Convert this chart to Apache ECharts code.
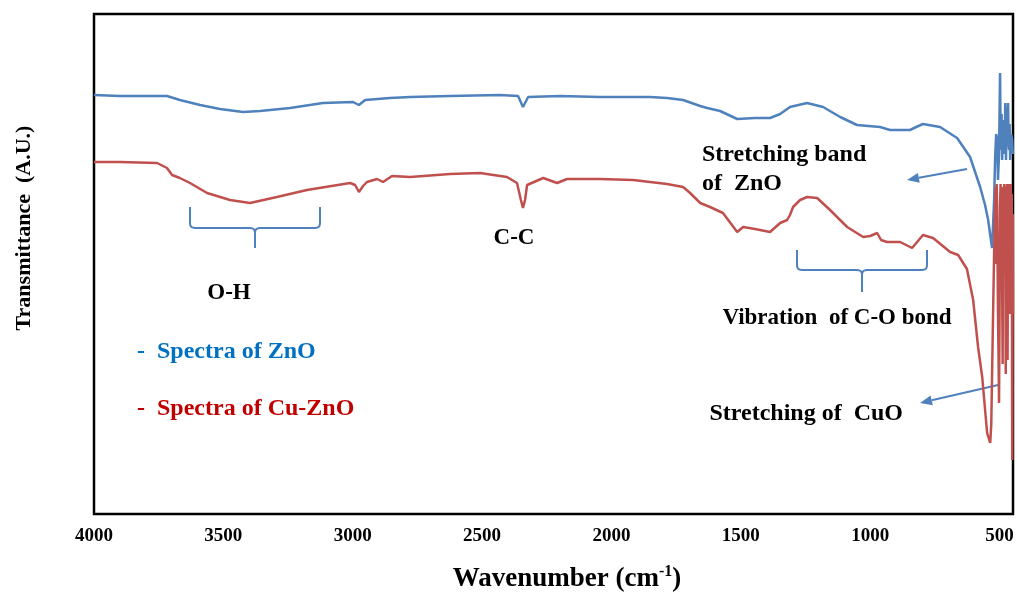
<!DOCTYPE html>
<html>
<head>
<meta charset="utf-8">
<script src="https://cdn.jsdelivr.net/npm/echarts@6/dist/echarts.min.js"></script>
<style>
html,body{margin:0;padding:0;background:#fff;}
#chart{width:1017px;height:592px;}
</style>
</head>
<body>
<div id="chart"></div>
<script>
// Wavenumbers (cm-1) and transmittance (arbitrary units)
const wnZnO = [4000,3900,3822,3718,3668,3590,3513,3424,3358,3242,3115,2999,2976,2952,2856,2778,2624,2431,2361,2342,2322,2199,2044,1851,1785,1723,1657,1630,1580,1514,1445,1387,1348,1310,1244,1182,1116,1051,962,923,846,822,796,730,664,614,575,556,544,536,529,521,517,513,509,506,502,498,496,494,492,490,486,482,480,478,475,473,471,469,467,465,463,461,459,455,451,449];
const tZnO  = [419,418,418,418,414,409,405,402,403,406,411,412,409,414,416,417,418,419,418,407,417,418,417,417,416,414,408,406,403,395,396,396,400,407,411,407,397,389,387,384,384,387,390,387,376,357,327,309,294,279,266,314,357,380,374,334,360,441,380,364,400,354,380,394,360,411,354,390,371,400,411,370,364,390,354,380,374,360];

const wnCuZnO = [4000,3900,3756,3718,3698,3668,3629,3563,3474,3397,3293,3177,3010,2991,2976,2960,2945,2906,2883,2848,2778,2624,2508,2404,2365,2350,2342,2334,2326,2264,2210,2172,2044,1916,1785,1723,1696,1657,1619,1569,1514,1491,1445,1387,1348,1321,1310,1298,1271,1244,1205,1155,1089,1027,1000,973,958,935,884,838,796,757,691,660,626,602,583,567,548,536,532,529,525,521,517,515,513,511,509,506,504,502,500,498,496,494,492,490,488,486,484,482,480,478,476,474,471,469,467,465,463,461,459,457,455,453,451,449,448];
const tCuZnO  = [352,352,351,346,339,336,331,321,314,311,317,324,331,329,322,328,332,335,332,338,337,340,341,337,331,314,306,314,329,336,331,335,335,334,330,327,321,311,307,301,282,287,285,282,291,294,299,307,314,317,316,304,287,277,278,281,274,272,272,266,279,276,262,259,245,214,167,137,81,71,90,137,200,260,310,327,250,330,300,200,160,111,200,310,330,260,327,230,150,320,290,330,240,327,140,320,330,154,310,330,220,325,200,330,260,320,54,300,200];

const xTicks = [4000,3500,3000,2500,2000,1500,1000,500];
const seriesNames = ['Spectra of ZnO','Spectra of Cu-ZnO'];

const SERIF = '"Liberation Serif","Times New Roman",serif';
const BLUE = '#4F81BD';
const RED = '#C0504D';

function pairs(xs, ys){ return xs.map((x,i)=>[x, ys[i]]); }

function arrow(x1,y1,x2,y2){
  const dx=x2-x1, dy=y2-y1, L=Math.hypot(dx,dy);
  const ux=dx/L, uy=dy/L, hl=12, hw=5;
  const bx=x2-ux*hl, by=y2-uy*hl;
  return [
    {type:'line', shape:{x1:x1,y1:y1,x2:bx,y2:by}, style:{stroke:BLUE,lineWidth:2}},
    {type:'polygon', shape:{points:[[x2,y2],[bx-uy*hw,by+ux*hw],[bx+uy*hw,by-ux*hw]]}, style:{fill:BLUE}}
  ];
}
function quad(p0,p1,p2,n){
  const out=[];
  for(let i=0;i<=n;i++){const t=i/n, a=(1-t)*(1-t), b=2*(1-t)*t, c=t*t;
    out.push([a*p0[0]+b*p1[0]+c*p2[0], a*p0[1]+b*p1[1]+c*p2[1]]);}
  return out;
}
function brace(xl,xr,yt,yh,yb){
  const xc=(xl+xr)/2, r=5;
  const left=[[xl,yt]].concat(quad([xl,yh-r],[xl,yh],[xl+r,yh],6), quad([xc-r,yh],[xc,yh],[xc,yh+r],6), [[xc,yb]]);
  const right=[[xr,yt]].concat(quad([xr,yh-r],[xr,yh],[xr-r,yh],6), quad([xc+r,yh],[xc,yh],[xc,yh+r],6));
  return [
    {type:'polyline', shape:{points:left}, style:{stroke:BLUE,lineWidth:2,fill:null}},
    {type:'polyline', shape:{points:right}, style:{stroke:BLUE,lineWidth:2,fill:null}}
  ];
}
function txt(x,y,text,size,color,align){
  return {type:'text', x:x, y:y, style:{text:text, font:`bold ${size}px ${SERIF}`, fill:color||'#000', align:align||'left', verticalAlign:'middle'}};
}

const chart = echarts.init(document.getElementById('chart'), null, {renderer:'canvas'});
chart.setOption({
  animation:false,
  backgroundColor:'#fff',
  grid:{left:94, right:4, top:14, bottom:78, show:true, borderColor:'#000', borderWidth:2.5, backgroundColor:'transparent'},
  xAxis:{
    type:'value', inverse:true, min:448, max:4000,
    axisLine:{show:false}, axisTick:{show:false}, splitLine:{show:false},
    axisLabel:{
      customValues:xTicks,
      color:'#000', fontFamily:SERIF, fontWeight:'bold', fontSize:19, margin:13,
      formatter:v => String(v)
    }
  },
  yAxis:{type:'value', min:0, max:500, show:false, splitLine:{show:false}},
  series:[
    {name:seriesNames[0], type:'line', data:pairs(wnZnO,tZnO), showSymbol:false, lineStyle:{color:BLUE,width:2.5}, itemStyle:{color:BLUE}},
    {name:seriesNames[1], type:'line', data:pairs(wnCuZnO,tCuZnO), showSymbol:false, lineStyle:{color:RED,width:2.5}, itemStyle:{color:RED}}
  ],
  graphic:[
    {type:'text', x:24, y:228, rotation:Math.PI/2, style:{text:'Transmittance  (A.U.)', font:`bold 22px ${SERIF}`, fill:'#000', align:'center', verticalAlign:'middle'}},
    {type:'text', x:567, y:579, style:{
      text:'{m|Wavenumber (cm}{s|-1}{m|)}', align:'center', verticalAlign:'middle',
      rich:{
        m:{font:`bold 27px ${SERIF}`, fill:'#000', lineHeight:30},
        s:{font:`bold 16px ${SERIF}`, fill:'#000', lineHeight:17, verticalAlign:'top'}
      }}},
    txt(702,155,'Stretching band',24),
    txt(702,184,'of  ZnO',24),
    txt(514,238,'C-C',23,'#000','center'),
    txt(229,293,'O-H',23,'#000','center'),
    txt(837,318,'Vibration  of C-O bond',23,'#000','center'),
    txt(903,414,'Stretching of  CuO',24,'#000','right'),
    txt(137,352,'-  '+seriesNames[0],24,'#0070C0'),
    txt(137,409,'-  '+seriesNames[1],24,'#C00000'),
    ...brace(190,320,207,228,248),
    ...brace(797,927,250,270,292),
    ...arrow(967,169,907,180),
    ...arrow(998,385,920,403)
  ]
});
</script>
</body>
</html>
